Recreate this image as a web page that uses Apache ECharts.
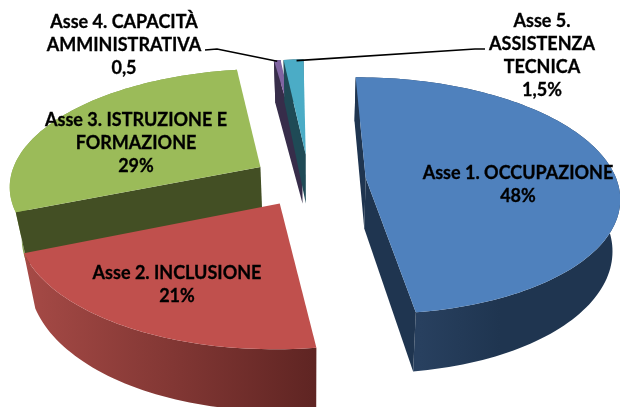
<!DOCTYPE html>
<html><head><meta charset="utf-8">
<style>html,body{margin:0;padding:0;background:#fff}#c{width:620px;height:407px}</style>
<script src="https://cdn.jsdelivr.net/npm/echarts@6/dist/echarts.min.js"></script>
</head><body><div id="c"></div>
<script>
// Data
const categories = ['Asse 1. OCCUPAZIONE','Asse 2. INCLUSIONE','Asse 3. ISTRUZIONE E\nFORMAZIONE','Asse 4. CAPACITÀ\nAMMINISTRATIVA','Asse 5.\nASSISTENZA\nTECNICA'];
const values = [48, 21, 29, 0.5, 1.5];
const valueLabels = ['48%','21%','29%','0,5','1,5%'];

// Style
const topColors = ['#4F81BD','#C0504D','#9BBB59','#8064A2','#4BACC6'];
const radialColors = ['#1F3550','#5E2422','#434F24','#372D4A','#1F4A56'];
const grad = (x0,c0,x1,c1)=>({type:'linear',x:x0,y:0,x2:x1,y2:0,global:true,colorStops:[{offset:0,color:c0},{offset:1,color:c1}]});
const wallFills = [grad(420,'#28405F',500,'#1F3550'),grad(25,'#A64A46',320,'#5E2422'),grad(10,'#93B255',30,'#7E9A48'),'#372D4A','#1F4A56'];
const layers = [40,50,30,10,20];
const labelPos = [[518,185],[177,285],[136,143],[124,45],[542,56]];
const leaderAnchors = {3:[[205,50],[217,49]],4:[[485,49],[475,49]]};

// Projection
const CAM = {xc:309,yh:-600,y0:780,p:0.149,a:251,e:0.227,rot:-0.7,depth:50.5,shrinkL:0.96,shrinkR:0.975};
const rad = d=>d*Math.PI/180;
function proj(u,v){
  const w=1/(1-CAM.p*v);
  const X=CAM.xc+CAM.a*u*w, Y=CAM.yh+CAM.y0*w;
  const s=X<CAM.xc?CAM.shrinkL:CAM.shrinkR;
  return {t:[X,Y],b:[CAM.xc+(X-CAM.xc)*s,Y+CAM.depth*w]};
}
const total = values.reduce((a,b)=>a+b,0);
function renderItem(params,api){
  const i=params.dataIndex, val=api.value(0);
  let before=0; for(let k=0;k<i;k++) before+=values[k];
  const t0=CAM.rot+before/total*360, t1=t0+val/total*360, m=(t0+t1)/2;
  const ox=CAM.e*Math.sin(rad(m)), oy=-CAM.e*Math.cos(rad(m));
  const pt=t=>proj(ox+Math.sin(rad(t)),oy-Math.cos(rad(t)));
  const apex=proj(ox,oy), n=Math.max(2,Math.ceil((t1-t0)/1.5));
  const arc=[]; for(let k=0;k<=n;k++) arc.push(pt(t0+(t1-t0)*k/n));
  const area=q=>{let s=0;q.forEach((p,j)=>{const r=q[(j+1)%q.length];s+=p[0]*r[1]-r[0]*p[1];});return s;};
  const z=layers[i], ch=[];
  ch.push({type:'polygon',z2:z,shape:{points:arc.map(a=>a.t).concat(arc.map(a=>a.b).reverse())},style:{fill:wallFills[i]}});
  const last=arc[arc.length-1];
  [[apex,arc[0]],[last,apex]].forEach(([P,Q])=>{
    const q=[P.t,Q.t,Q.b,P.b];
    if(area(q)<0) ch.push({type:'polygon',z2:z+1,shape:{points:q},style:{fill:radialColors[i]}});
  });
  ch.push({type:'polygon',z2:z+2,shape:{points:[apex.t].concat(arc.map(a=>a.t))},style:{fill:topColors[i]}});
  if(leaderAnchors[i]){
    const end=pt(m).t;
    ch.push({type:'polyline',z2:90,shape:{points:leaderAnchors[i].concat([[end[0]+(i===4?3:0),end[1]+1]])},style:{stroke:'#000',lineWidth:1.6,fill:null}});
  }
  ch.push({type:'text',z2:100,style:{x:labelPos[i][0],y:labelPos[i][1],text:categories[i]+'\n'+valueLabels[i],
    font:'bold 18px Lato, sans-serif',lineHeight:23,fill:'#000',stroke:'#000',lineWidth:0.3,align:'center',verticalAlign:'middle'}});
  return {type:'group',children:ch};
}
const chart=echarts.init(document.getElementById('c'),null,{renderer:'canvas'});
chart.setOption({animation:false,backgroundColor:'#fff',
  series:[{type:'custom',coordinateSystem:'none',silent:true,clip:false,renderItem,data:values.map(v=>[v])}]});
</script></body></html>
